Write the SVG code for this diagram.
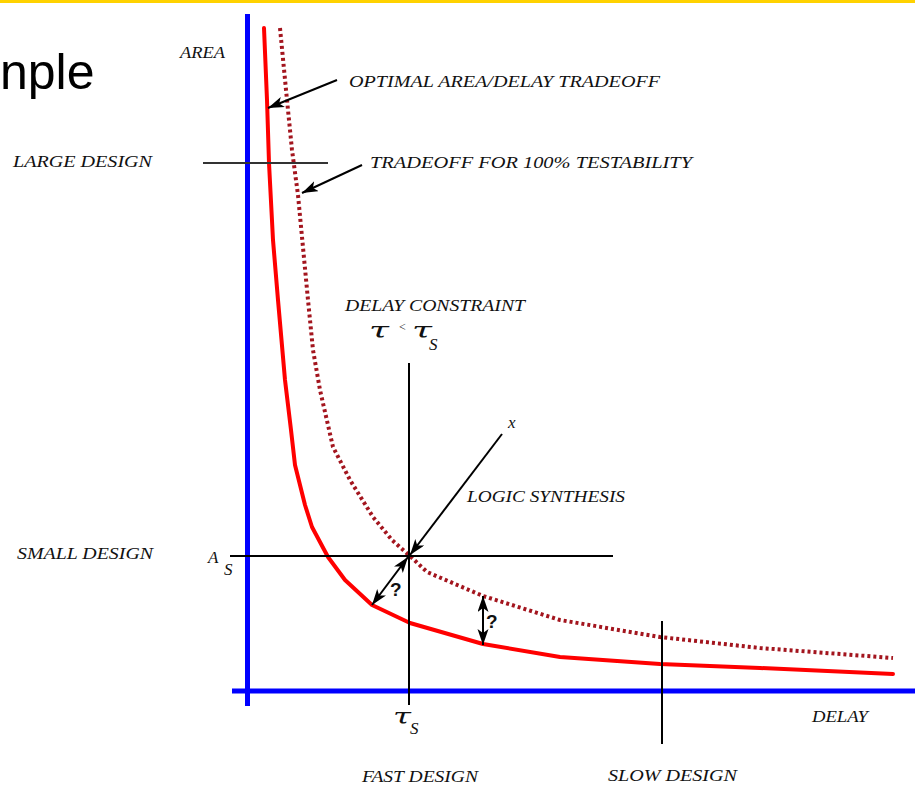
<svg xmlns="http://www.w3.org/2000/svg" width="915" height="785" viewBox="0 0 915 785">
  <style>
    .lbl { font-family: "Liberation Serif", "Times New Roman", serif; font-style: italic; font-size: 17px; fill: #111; }
    .greek { font-family: "DejaVu Serif", "Liberation Serif", serif; font-style: italic; font-size: 23px; fill: #111; }
    .q { font-family: "Liberation Sans", Arial, sans-serif; font-weight: bold; font-size: 19px; fill: #111; }
    .axis { stroke: #0000FF; stroke-width: 5; fill: none; }
    .guide { stroke: #000; stroke-width: 2; fill: none; }
    .arrow { stroke: #000; stroke-width: 2; fill: none; marker-end: url(#head); }
    .darrow { stroke: #000; stroke-width: 2; fill: none; marker-end: url(#head); marker-start: url(#head); }
    .optimal { stroke: #FF0000; stroke-width: 4; fill: none; stroke-linejoin: round; stroke-linecap: round; }
    .testable { stroke: #A3151E; stroke-width: 4; fill: none; stroke-dasharray: 3 3; }
  </style>
  <defs>
    <marker id="head" markerUnits="userSpaceOnUse" markerWidth="18" markerHeight="12" refX="16" refY="5.5" orient="auto-start-reverse">
      <path d="M0,0 L16,5.5 L0,11 L4,5.5 z" fill="#000"/>
    </marker>
  </defs>

  <rect width="915" height="785" fill="#fff"/>
  <!-- header rule and title fragment -->
  <rect x="0" y="0" width="915" height="3" fill="#FFD200"/>
  <text x="0" y="89" font-family="'Liberation Sans', Arial, sans-serif" font-size="50" fill="#000">nple</text>

  <!-- axes -->
  <g id="axes">
    <line class="axis" x1="247.5" y1="14" x2="247.5" y2="706"/>
    <line class="axis" x1="232" y1="691" x2="915" y2="691"/>
    <text class="lbl" x="180" y="58" textLength="45" lengthAdjust="spacingAndGlyphs">AREA</text>
    <text class="lbl" x="812" y="722" textLength="56" lengthAdjust="spacingAndGlyphs">DELAY</text>
  </g>

  <!-- trade-off curves -->
  <g id="curve-optimal">
    <polyline class="optimal" points="264,28 267,100 269,163 273,240 278,300 285,380 291,430 295,465 305,505 312,527 328,557 345,580 372,605 410,623 483,644 560,657 660,664 760,668 893,674"/>
  </g>
  <g id="curve-testable">
    <polyline class="testable" points="280,28 287,100 292,150 298,195 308,300 313,350 320,390 333,447 350,480 373,517 392,540 410,556 427,572 483,596 560,620 660,637 760,648 893,658"/>
  </g>

  <!-- reference levels -->
  <g id="large-design">
    <line x1="203" y1="163" x2="328" y2="163" stroke="#333" stroke-width="2"/>
    <text class="lbl" x="13" y="167" textLength="139" lengthAdjust="spacingAndGlyphs">LARGE  DESIGN</text>
  </g>
  <g id="small-design">
    <line class="guide" x1="230" y1="556" x2="613" y2="556"/>
    <text class="lbl" x="17" y="559" textLength="136" lengthAdjust="spacingAndGlyphs">SMALL  DESIGN</text>
    <text class="lbl" x="208" y="563" font-size="16">A</text>
    <text class="lbl" x="224" y="575" font-size="16">S</text>
  </g>
  <g id="delay-constraint">
    <line class="guide" x1="409" y1="363" x2="409" y2="705"/>
    <text class="lbl" x="345" y="311" textLength="180" lengthAdjust="spacingAndGlyphs">DELAY CONSTRAINT</text>
    <text class="greek" x="369" y="338" textLength="20" lengthAdjust="spacingAndGlyphs">τ</text>
    <text x="399" y="331" font-family="'Liberation Serif', serif" font-size="12" fill="#111">&lt;</text>
    <text class="greek" x="412" y="338" textLength="20" lengthAdjust="spacingAndGlyphs">τ</text>
    <text class="lbl" x="429" y="350" font-size="16">S</text>
    <text class="greek" x="393" y="724" textLength="18" lengthAdjust="spacingAndGlyphs">τ</text>
    <text class="lbl" x="410" y="734" font-size="16">S</text>
    <text class="lbl" x="362" y="782" textLength="116" lengthAdjust="spacingAndGlyphs">FAST DESIGN</text>
  </g>
  <g id="slow-design">
    <line class="guide" x1="662" y1="621" x2="662" y2="744"/>
    <text class="lbl" x="608" y="781" textLength="129" lengthAdjust="spacingAndGlyphs">SLOW  DESIGN</text>
  </g>

  <!-- callouts -->
  <g id="connectors">
    <line class="arrow" x1="337" y1="80" x2="268" y2="108"/>
    <line class="arrow" x1="362" y1="165" x2="302" y2="193"/>
    <line class="arrow" x1="502" y1="434" x2="410" y2="555"/>
    <line class="darrow" x1="408" y1="557" x2="372" y2="605"/>
    <line class="darrow" x1="483" y1="596" x2="483" y2="645"/>
  </g>
  <g id="callout-labels">
    <text class="lbl" x="349" y="87" textLength="311" lengthAdjust="spacingAndGlyphs">OPTIMAL AREA/DELAY  TRADEOFF</text>
    <text class="lbl" x="370" y="168" textLength="322" lengthAdjust="spacingAndGlyphs">TRADEOFF FOR  100%   TESTABILITY</text>
    <text class="lbl" x="467" y="502" textLength="158" lengthAdjust="spacingAndGlyphs">LOGIC SYNTHESIS</text>
    <text class="lbl" x="508" y="428" font-size="15">x</text>
    <text class="q" x="390" y="596">?</text>
    <text class="q" x="486" y="628">?</text>
  </g>
</svg>
